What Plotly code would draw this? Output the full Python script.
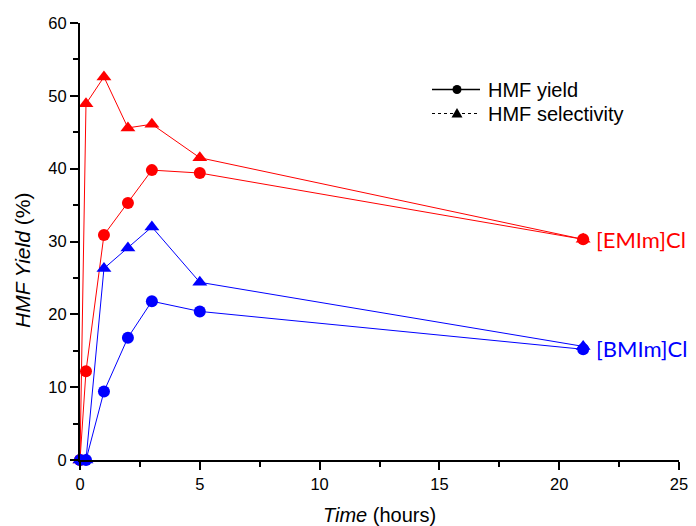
import plotly.graph_objects as go

time_h = [0, 0.25, 1, 2, 3, 5, 21]
emim_yield = [0, 12.2, 30.9, 35.3, 39.8, 39.4, 30.3]
emim_select = [0, 48.9, 52.6, 45.6, 46.1, 41.5, 30.3]
bmim_yield = [0, 0, 9.4, 16.8, 21.8, 20.4, 15.2]
bmim_select = [0, 0, 26.3, 29.1, 32.0, 24.4, 15.6]

legend_labels = ["HMF yield", "HMF selectivity"]
series_labels = ["[EMIm]Cl", "[BMIm]Cl"]

RED = "#ff0000"
BLUE = "#0000ff"
ARIAL = "Liberation Sans, Arial, sans-serif"

fig = go.Figure()

def add(y, color, symbol, size):
    fig.add_trace(go.Scatter(
        x=time_h, y=y, mode="lines+markers",
        line=dict(color=color, width=1),
        marker=dict(symbol=symbol, size=size, color=color),
        showlegend=False, cliponaxis=False))

add(emim_select, RED, "triangle-up", 13)
add(emim_yield, RED, "circle", 12)
add(bmim_select, BLUE, "triangle-up", 13)
add(bmim_yield, BLUE, "circle", 12)

fig.add_annotation(x=21, y=emim_select[-1], text=series_labels[0], showarrow=False,
                   xanchor="left", xshift=11, yshift=0,
                   font=dict(family="Lato, Open Sans, sans-serif", size=22, color=RED))
fig.add_annotation(x=21, y=bmim_yield[-1], text=series_labels[1], showarrow=False,
                   xanchor="left", xshift=11, yshift=1,
                   font=dict(family="Lato, Open Sans, sans-serif", size=22, color=BLUE))

# manual legend (plot area on page: x 80..679 px, y 23..460 px)
def px2paper(px, py):
    return (px - 80) / 599.0, (460 - py) / 437.0

x0, yy1 = px2paper(432, 89.5)
x1, _ = px2paper(480, 89.5)
xm, _ = px2paper(457, 89.5)
_, yy2 = px2paper(0, 113.5)
xt, _ = px2paper(487, 0)

fig.add_shape(type="line", xref="paper", yref="paper", x0=x0, x1=x1, y0=yy1, y1=yy1,
              line=dict(color="black", width=1.5))
fig.add_shape(type="circle", xref="paper", yref="paper", xsizemode="pixel", ysizemode="pixel",
              xanchor=xm, yanchor=yy1, x0=-4.5, x1=4.5, y0=-4.5, y1=4.5,
              fillcolor="black", line=dict(color="black", width=0))
fig.add_shape(type="line", xref="paper", yref="paper", x0=x0, x1=x1, y0=yy2, y1=yy2,
              line=dict(color="black", width=1, dash="dot"))
fig.add_shape(type="path", xref="paper", yref="paper", xsizemode="pixel", ysizemode="pixel",
              xanchor=xm, yanchor=yy2, path="M-5.5,-4 L5.5,-4 L0,5.5 Z",
              fillcolor="black", line=dict(color="black", width=0))
for lab, yy in zip(legend_labels, [yy1, yy2]):
    fig.add_annotation(x=xt, y=yy, xref="paper", yref="paper", text=lab, showarrow=False,
                       xanchor="left", yanchor="middle", borderpad=0,
                       font=dict(family=ARIAL, size=20, color="black"))

# y-axis title placed as text (centre at page x=22, y=261)
ytx, yty = px2paper(22, 261)
fig.add_annotation(x=ytx, y=yty, xref="paper", yref="paper", text="<i>HMF Yield</i> (%)",
                   showarrow=False, textangle=-90, xanchor="center", yanchor="middle",
                   font=dict(family=ARIAL, size=21, color="black"))

axis_common = dict(showline=True, linecolor="black", linewidth=2, ticks="outside",
                   ticklen=8, tickwidth=2, tickcolor="black", showgrid=False,
                   zeroline=False, mirror=False, automargin=False,
                   tickfont=dict(family=ARIAL, size=16.5, color="black"))

fig.update_xaxes(range=[0, 25], tickvals=[0, 5, 10, 15, 20, 25],
                 minor=dict(ticks="outside", ticklen=5, tickwidth=2, tickcolor="black", dtick=2.5),
                 title=dict(text="<i>Time</i> (hours)", standoff=17,
                            font=dict(family=ARIAL, size=20, color="black")),
                 **axis_common)
fig.update_yaxes(range=[0, 60], tickvals=[0, 10, 20, 30, 40, 50, 60],
                 minor=dict(ticks="outside", ticklen=5, tickwidth=2, tickcolor="black", dtick=5),
                 **axis_common)

# the page adds an 8 px body margin, so the figure is shifted by 8 px
fig.update_layout(
    width=688, height=518,
    margin=dict(l=72, r=17, t=15, b=66),
    plot_bgcolor="white", paper_bgcolor="white",
    showlegend=False,
)

fig.write_html("out.html")
